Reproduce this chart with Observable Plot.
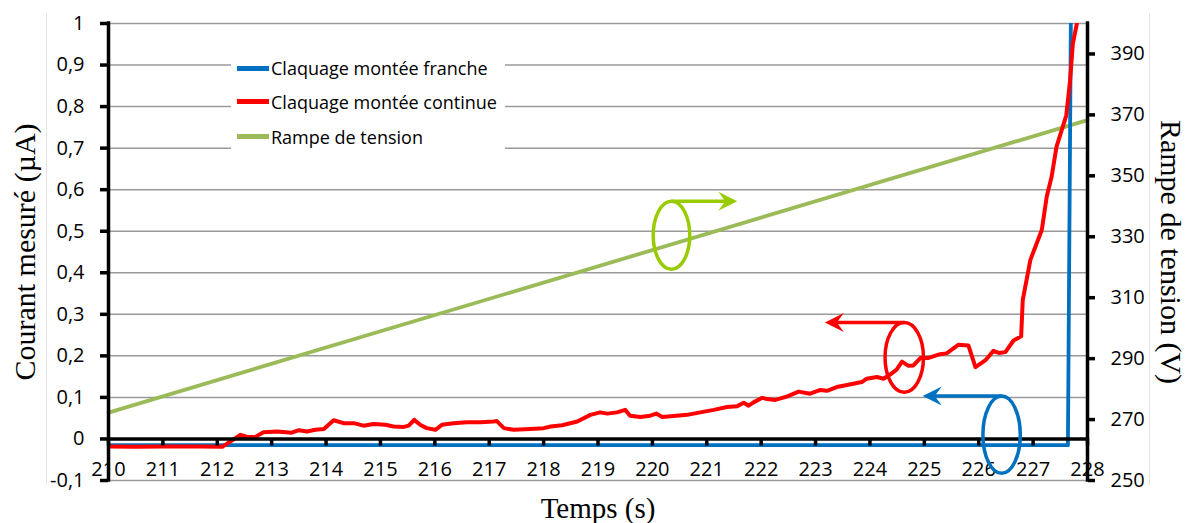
<!DOCTYPE html>
<html>
<head>
<meta charset="utf-8">
<script src="https://cdn.jsdelivr.net/npm/d3@7"></script>
<script src="https://cdn.jsdelivr.net/npm/@observablehq/plot@0.6"></script>
<style>
  body { margin: 0; background: #fff; }
  #wrap { position: relative; width: 1193px; height: 523px; overflow: hidden; background: #fff; }
  #wrap svg { position: absolute; left: 0; top: 0; }
  #legend { position: absolute; left: 231px; top: 51px; width: 274px; height: 102px; background: #fff;
            font-family: "Open Sans", sans-serif; font-size: 18px; color: #000; }
  .item { position: absolute; left: 6px; height: 30px; display: flex; align-items: center; white-space: nowrap; }
  .sw { width: 32px; height: 4.5px; margin-right: 2px; }
  .edge { position: absolute; top: 13px; height: 472px; width: 0; border-left: 1px solid #e4e4e4; }
</style>
</head>
<body>
<div id="wrap"></div>
<script>
// ---- axes / ticks ----
const xTickLabels = [210, 211, 212, 213, 214, 215, 216, 217, 218, 219, 220, 221, 222, 223, 224, 225, 226, 227, 228];
const leftTicks = [-0.1, 0, 0.1, 0.2, 0.3, 0.4, 0.5, 0.6, 0.7, 0.8, 0.9, 1];
const rightTicks = [250, 270, 290, 310, 330, 350, 370, 390];
const leftDomain = [-0.1, 1];
const rightDomain = [250, 400];

// ---- series ----
const seriesNames = ["Claquage montée franche", "Claquage montée continue", "Rampe de tension"];
const seriesColors = ["#0070C0", "#FF0000", "#9BBB59"];

const blueT = [210, 211, 212, 213, 214, 215, 216, 217, 218, 219, 220, 221, 222, 223, 224, 225, 226, 227, 227.64, 227.70];
const blueI = [-0.015, -0.015, -0.015, -0.015, -0.015, -0.015, -0.015, -0.015, -0.015, -0.015, -0.015, -0.015, -0.015, -0.015, -0.015, -0.015, -0.015, -0.015, -0.015, 1.12];

const redT = [210.00, 210.50, 211.00, 211.69, 212.09, 212.43, 212.55, 212.70, 212.85, 213.10, 213.37, 213.50, 213.65, 213.80, 213.96,
  214.14, 214.32, 214.51, 214.69, 214.87, 215.09, 215.24, 215.43, 215.52, 215.62, 215.73, 215.85, 216.01, 216.13, 216.34,
  216.59, 216.84, 217.08, 217.14, 217.27, 217.45, 217.76, 218.00, 218.13, 218.34, 218.62, 218.86, 219.04, 219.17, 219.35,
  219.50, 219.59, 219.78, 219.96, 220.07, 220.18, 220.39, 220.64, 220.88, 221.13, 221.37, 221.56, 221.68, 221.77, 221.86,
  222.02, 222.11, 222.26, 222.47, 222.69, 222.90, 223.09, 223.21, 223.39, 223.58, 223.85, 223.94, 224.13, 224.25, 224.37,
  224.49, 224.59, 224.71, 224.80, 224.93, 225.08, 225.29, 225.41, 225.63, 225.81, 225.94, 226.12, 226.27, 226.37, 226.49,
  226.64, 226.78, 226.81, 226.95, 227.16, 227.25, 227.34, 227.43, 227.61, 227.68, 227.73, 227.82, 227.86];
const redI = [-0.018, -0.019, -0.018, -0.018, -0.019, 0.010, 0.005, 0.005, 0.016, 0.018, 0.015, 0.021, 0.018, 0.022, 0.024,
  0.045, 0.038, 0.038, 0.032, 0.036, 0.034, 0.030, 0.029, 0.032, 0.046, 0.034, 0.026, 0.022, 0.034, 0.038,
  0.040, 0.040, 0.042, 0.043, 0.026, 0.022, 0.024, 0.026, 0.030, 0.033, 0.042, 0.058, 0.064, 0.061, 0.064,
  0.070, 0.056, 0.053, 0.056, 0.061, 0.053, 0.055, 0.058, 0.064, 0.070, 0.077, 0.079, 0.087, 0.080, 0.088,
  0.099, 0.096, 0.094, 0.102, 0.114, 0.109, 0.118, 0.116, 0.125, 0.130, 0.137, 0.145, 0.149, 0.145, 0.155,
  0.167, 0.186, 0.176, 0.177, 0.195, 0.195, 0.204, 0.206, 0.227, 0.225, 0.173, 0.189, 0.212, 0.207, 0.209,
  0.237, 0.247, 0.335, 0.431, 0.503, 0.583, 0.631, 0.703, 0.779, 0.863, 0.951, 1.010, 1.05];

const rampT = [210, 228];
const rampV = [272.3, 368.3];

// ---- annotations (ellipse + arrow pointing to the axis of each series) ----
const annCx = [220.36, 224.64, 226.43];
const annCy = [0.489, 0.195, 0.009];
const annRx = [0.336, 0.353, 0.344];
const annRy = [0.082, 0.084, 0.093];
const annTipX = [221.57, 223.18, 224.98];
const annColors = ["#99CC00", "#FF0000", "#0070C0"];

// map secondary-axis voltage onto the primary scale
const toLeft = v => leftDomain[0] + (v - rightDomain[0]) * (leftDomain[1] - leftDomain[0]) / (rightDomain[1] - rightDomain[0]);
const fromLeft = y => rightDomain[0] + (y - leftDomain[0]) * (rightDomain[1] - rightDomain[0]) / (leftDomain[1] - leftDomain[0]);
const fmtLeft = d => Math.abs(d) < 1e-9 ? "0" : d3.format(".1~f")(d).replace("\u2212", "-").replace(".", ",");

const blue = blueT.map((t, i) => ({t, v: blueI[i]}));
const red = redT.map((t, i) => ({t, v: redI[i]}));
const ramp = rampT.map((t, i) => ({t, v: toLeft(rampV[i])}));

function annotations(index, scales) {
  const x = scales.x, y = scales.y;
  const ns = "http://www.w3.org/2000/svg";
  const g = document.createElementNS(ns, "g");
  annCx.forEach((cx, i) => {
    const px = x(cx), py = y(annCy[i]);
    const rx = Math.abs(x(cx + annRx[i]) - px);
    const ry = Math.abs(y(annCy[i] + annRy[i]) - py);
    const col = annColors[i];
    const e = document.createElementNS(ns, "ellipse");
    e.setAttribute("cx", px); e.setAttribute("cy", py);
    e.setAttribute("rx", rx); e.setAttribute("ry", ry);
    e.setAttribute("fill", "none"); e.setAttribute("stroke", col); e.setAttribute("stroke-width", 3.5);
    g.appendChild(e);
    const ay = py - ry;
    const tx = x(annTipX[i]);
    const d = Math.sign(tx - px);
    const l = document.createElementNS(ns, "path");
    l.setAttribute("d", `M${px},${ay}L${tx - d * 12},${ay}`);
    l.setAttribute("stroke", col); l.setAttribute("stroke-width", 3.5); l.setAttribute("fill", "none");
    g.appendChild(l);
    const h = document.createElementNS(ns, "path");
    h.setAttribute("d", `M${tx},${ay}L${tx - d * 19},${ay - 9.5}L${tx - d * 12},${ay}L${tx - d * 19},${ay + 9.5}Z`);
    h.setAttribute("fill", col);
    g.appendChild(h);
  });
  return g;
}

const chart = Plot.plot({
  width: 1193,
  height: 523,
  marginLeft: 108,
  marginRight: 106,
  marginTop: 23,
  marginBottom: 43,
  style: {fontFamily: '"Open Sans", sans-serif', fontSize: "20px", color: "#000", background: "transparent", overflow: "visible"},
  x: {domain: [210, 228], axis: null},
  y: {domain: leftDomain},
  marks: [
    Plot.gridY(leftTicks, {stroke: "#9a9a9a", strokeOpacity: 1, strokeWidth: 1.5}),
    Plot.text(xTickLabels, {x: d => d, frameAnchor: "bottom", lineAnchor: "middle", dy: -11, text: d => String(d), fontSize: 20}),
    Plot.line(ramp, {x: "t", y: "v", stroke: seriesColors[2], strokeWidth: 3.8}),
    Plot.line(blue, {x: "t", y: "v", stroke: seriesColors[0], strokeWidth: 3.8, clip: true}),
    Plot.line(red, {x: "t", y: "v", stroke: seriesColors[1], strokeWidth: 4, strokeLinejoin: "round", clip: true}),
    Plot.ruleY([0], {stroke: "#000", strokeWidth: 3.5}),
    Plot.ruleX(xTickLabels, {x: d => d, y1: 0, y2: -0.017, stroke: "#000", strokeWidth: 3.5}),
    Plot.ruleX([210, 228], {stroke: "#000", strokeWidth: 3.5, strokeLinecap: "square"}),
    Plot.axisY({anchor: "left", ticks: leftTicks, tickFormat: fmtLeft, tickSize: 8, tickPadding: 16, strokeWidth: 3.5, stroke: "#000", label: null}),
    Plot.axisY({anchor: "right", ticks: rightTicks.map(toLeft), tickFormat: d => String(Math.round(fromLeft(d))), tickSize: 7, tickPadding: 16, strokeWidth: 3.5, stroke: "#000", label: null}),
    annotations,
    Plot.text(["Courant mesuré (µA)"], {text: d => d, frameAnchor: "left", textAnchor: "middle", lineAnchor: "middle", rotate: -90, dx: -83, fontFamily: '"Liberation Serif", serif', fontSize: 30}),
    Plot.text(["Rampe de tension (V)"], {text: d => d, frameAnchor: "right", textAnchor: "middle", lineAnchor: "middle", rotate: 90, dx: 83, fontFamily: '"Liberation Serif", serif', fontSize: 30}),
    Plot.text(["Temps (s)"], {text: d => d, frameAnchor: "bottom", textAnchor: "middle", lineAnchor: "middle", dy: 28, fontFamily: '"Liberation Serif", serif', fontSize: 29})
  ]
});

const wrap = document.getElementById("wrap");
wrap.appendChild(chart);

// faint chart-area edges
[46, 1149].forEach(x => {
  const e = document.createElement("div");
  e.className = "edge";
  e.style.left = x + "px";
  wrap.appendChild(e);
});

// legend (inside plot area, as in the original)
const legend = document.createElement("div");
legend.id = "legend";
const itemTops = [2.3, 35.7, 70.7];
seriesNames.forEach((name, i) => {
  const it = document.createElement("div");
  it.className = "item";
  it.style.top = itemTops[i] + "px";
  const sw = document.createElement("span");
  sw.className = "sw";
  sw.style.background = seriesColors[i];
  const tx = document.createElement("span");
  tx.textContent = name;
  it.appendChild(sw);
  it.appendChild(tx);
  legend.appendChild(it);
});
wrap.appendChild(legend);
</script>
</body>
</html>
